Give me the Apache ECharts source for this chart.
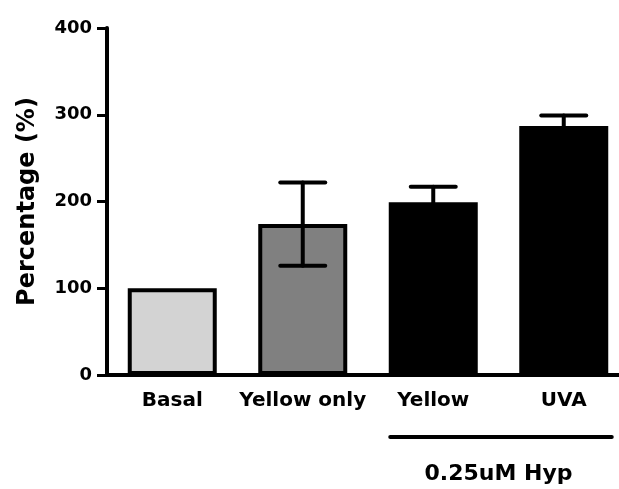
<!DOCTYPE html>
<html><head><meta charset="utf-8">
<script src="https://cdn.jsdelivr.net/npm/echarts@6/dist/echarts.min.js"></script>
<style>html,body{margin:0;padding:0;background:#fff}#c{width:619px;height:489px}</style>
</head><body><div id="c"></div>
<script>
const categories = ['Basal', 'Yellow only', 'Yellow', 'UVA'];
const means = [100, 174, 199, 287];
const errors = [0, 48, 18, 12];
const barColors = ['#d3d3d3', '#808080', '#000000', '#000000'];
const yMin = 0, yMax = 400, yStep = 100;
const yTitle = 'Percentage (%)';
const groupLabel = '0.25uM Hyp';
const groupRange = [2, 3];
const FONT = 'DejaVu Sans';

const chart = echarts.init(document.getElementById('c'), null, {renderer: 'canvas'});

function renderErr(params, api) {
  const x = api.value(0), lo = api.value(1), hi = api.value(2);
  if (hi === lo) return null;
  const pLo = api.coord([x, lo]), pHi = api.coord([x, hi]);
  const half = 22.5;
  const st = {stroke: '#000', lineWidth: 4, lineCap: 'round'};
  return {type: 'group', children: [
    {type: 'line', shape: {x1: pLo[0], y1: pLo[1], x2: pHi[0], y2: pHi[1]}, style: st},
    {type: 'line', shape: {x1: pHi[0] - half, y1: pHi[1], x2: pHi[0] + half, y2: pHi[1]}, style: st},
    {type: 'line', shape: {x1: pLo[0] - half, y1: pLo[1], x2: pLo[0] + half, y2: pLo[1]}, style: st}
  ]};
}

function renderGroup(params, api) {
  const a = api.coord([api.value(0), 0]);
  const b = api.coord([api.value(1), 0]);
  const ly = a[1] + 62;
  return {type: 'group', children: [
    {type: 'line', shape: {x1: a[0] - 43, y1: ly, x2: b[0] + 48, y2: ly},
     style: {stroke: '#000', lineWidth: 4, lineCap: 'round'}},
    {type: 'text', style: {text: groupLabel, x: (a[0] + b[0]) / 2, y: a[1] + 99,
      align: 'center', verticalAlign: 'middle', fill: '#000',
      font: 'bold 22px "' + FONT + '"'}}
  ]};
}

const option = {
  animation: false,
  backgroundColor: '#fff',
  grid: {left: 107, width: 522, top: 28, bottom: 114, containLabel: false, outerBoundsMode: 'none'},
  xAxis: {
    type: 'category', data: categories, boundaryGap: true,
    axisLine: {lineStyle: {color: '#000', width: 4}},
    axisTick: {alignWithLabel: true, length: 9, lineStyle: {color: '#000', width: 3}},
    axisLabel: {margin: 16, color: '#000', fontFamily: FONT, fontWeight: 'bold', fontSize: 20, interval: 0}
  },
  yAxis: {
    type: 'value', min: yMin, max: yMax, interval: yStep,
    name: yTitle, nameLocation: 'middle', nameGap: 67, nameRotate: 90,
    nameTextStyle: {color: '#000', fontFamily: FONT, fontWeight: 'bold', fontSize: 24},
    axisLine: {show: true, lineStyle: {color: '#000', width: 4}},
    axisTick: {show: true, length: 10, lineStyle: {color: '#000', width: 3}},
    axisLabel: {margin: 15, color: '#000', fontFamily: FONT, fontWeight: 'bold', fontSize: 18},
    splitLine: {show: false}
  },
  series: [
    {type: 'bar', barWidth: 89, z: 2,
     data: means.map((v, i) => ({value: v, itemStyle: {color: barColors[i]}})),
     itemStyle: {borderColor: '#000', borderWidth: 4}},
    {type: 'custom', z: 3, renderItem: renderErr,
     data: means.map((v, i) => [i, v - errors[i], v + errors[i]])},
    {type: 'custom', z: 3, silent: true, renderItem: renderGroup,
     data: [[groupRange[0], groupRange[1]]]}
  ]
};
chart.setOption(option);
</script>
</body></html>
